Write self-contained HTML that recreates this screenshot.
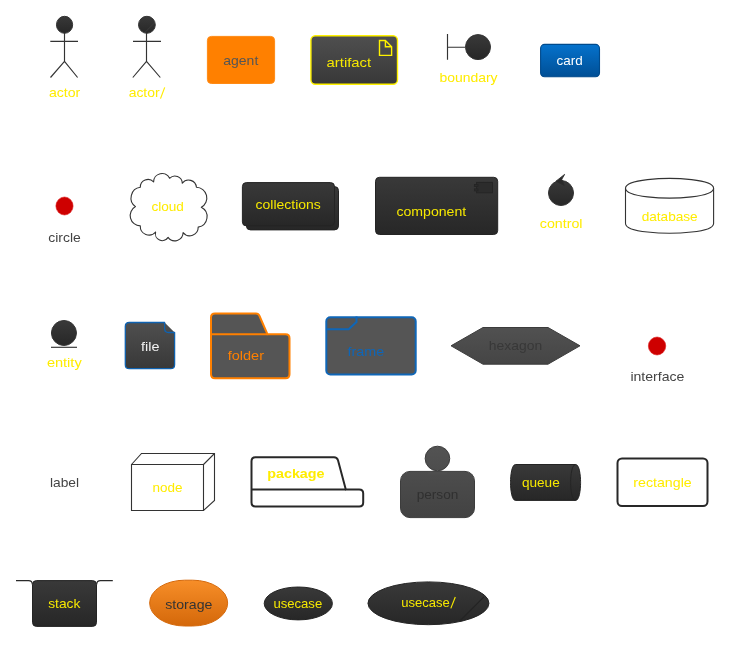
<!DOCTYPE html>
<html>
<head>
<meta charset="utf-8">
<title>deployment elements</title>
<style>
html,body{margin:0;padding:0;background:#ffffff;}
body{width:743px;height:646px;overflow:hidden;font-family:"Liberation Sans",sans-serif;}
svg{display:block;will-change:transform;}
text{font-family:"Liberation Sans",sans-serif;font-size:13.5px;}
.y{fill:#FFEC00;}
.yd{fill:#F6E800;}
.g{fill:#444444;}
.ln{stroke:#333333;stroke-width:1;fill:none;}
.ln2{stroke:#333333;stroke-width:1.15;fill:none;}
</style>
</head>
<body>
<svg width="743" height="646" viewBox="0 0 743 646">
<defs>
<linearGradient id="gd" x1="0" y1="0" x2="0" y2="1"><stop offset="0" stop-color="#393939"/><stop offset="1" stop-color="#272727"/></linearGradient>
<linearGradient id="gm" x1="0" y1="0" x2="0" y2="1"><stop offset="0" stop-color="#4f4f4f"/><stop offset="1" stop-color="#383838"/></linearGradient>
<linearGradient id="gb" x1="0" y1="0" x2="0" y2="1"><stop offset="0" stop-color="#0572CC"/><stop offset="1" stop-color="#004F96"/></linearGradient>
<linearGradient id="go" x1="0" y1="0" x2="0" y2="1"><stop offset="0" stop-color="#F78E28"/><stop offset="1" stop-color="#D4680A"/></linearGradient>
<linearGradient id="gh" x1="0" y1="0" x2="0" y2="1"><stop offset="0" stop-color="#515151"/><stop offset="1" stop-color="#454545"/></linearGradient>
<linearGradient id="gp" gradientUnits="userSpaceOnUse" x1="0" y1="446" x2="0" y2="518"><stop offset="0" stop-color="#535353"/><stop offset="1" stop-color="#424242"/></linearGradient>
</defs>

<!-- ROW 1 -->
<!-- actor -->
<g id="actor">
<path class="ln2" d="M64.5 33V61.3M50.3 41.4H78M64.5 61.3L50.5 77.5M64.5 61.3L77.6 77.5"/>
<ellipse cx="64.55" cy="24.8" rx="8.1" ry="8.5" fill="url(#gd)" stroke="#333" stroke-width="1"/>
<text class="y" x="48.9" y="96.8" textLength="31.3" lengthAdjust="spacingAndGlyphs">actor</text>
</g>
<!-- actor/ -->
<g id="actorb">
<path class="ln2" d="M146.5 33V61.3M133 41.4H161M146.5 61.3L132.8 77.5M146.5 61.3L160.3 77.5"/>
<ellipse cx="146.9" cy="24.8" rx="8.4" ry="8.5" fill="url(#gd)" stroke="#333" stroke-width="1"/>
<path d="M144.8 32.5L154.5 22.9" stroke="#3b3b3b" stroke-width="1" fill="none"/>
<text class="y" x="128.7" y="96.8" textLength="30.9" lengthAdjust="spacingAndGlyphs">actor</text>
<path d="M160.5 98.6L164.7 87.4" stroke="#FFEC00" stroke-width="1.15" fill="none"/>
</g>
<!-- agent -->
<g id="agent">
<rect x="207.4" y="36.4" width="67.2" height="47.1" rx="4" ry="4" fill="#FF8000" stroke="#FF8A14" stroke-width="1"/>
<text x="223.3" y="65.3" fill="#555555" textLength="35" lengthAdjust="spacingAndGlyphs">agent</text>
</g>
<!-- artifact -->
<g id="artifact">
<rect x="310.9" y="35.7" width="86.6" height="48.5" rx="4.5" ry="4.5" fill="url(#gm)" stroke="#FFF200" stroke-width="1.4"/>
<path d="M379.5 40.5H385.4L391.6 46.7V55.4H379.5Z M385.4 40.5V46.7H391.6" fill="none" stroke="#FFF200" stroke-width="1.4"/>
<text class="yd" x="326.6" y="67.2" textLength="44.5" lengthAdjust="spacingAndGlyphs">artifact</text>
</g>
<!-- boundary -->
<g id="boundary">
<path class="ln2" d="M447.5 34V59.8M447.5 47.2H465"/>
<circle cx="478" cy="47.1" r="12.5" fill="url(#gd)" stroke="#333" stroke-width="1"/>
<text class="y" x="439.4" y="81.9" textLength="58.1" lengthAdjust="spacingAndGlyphs">boundary</text>
</g>
<!-- card -->
<g id="card">
<rect x="540.6" y="44.4" width="58.9" height="32.3" rx="4" ry="4" fill="url(#gb)" stroke="#004A8C" stroke-width="1.1"/>
<text x="556.5" y="64.9" fill="#ffffff" textLength="26.2" lengthAdjust="spacingAndGlyphs">card</text>
</g>

<!-- ROW 2 -->
<!-- circle -->
<g id="circle">
<ellipse cx="64.5" cy="206" rx="8.6" ry="9" fill="#CE0000" stroke="#DD2020" stroke-width="0.6"/>
<text class="g" x="48.3" y="242" textLength="32.5" lengthAdjust="spacingAndGlyphs">circle</text>
</g>
<!-- cloud -->
<g id="cloud">
<path d="M140.3 187.3A7.7 7.7 0 0 1 153.6 181.9A8.4 8.4 0 0 1 169.6 178.3A7.4 7.4 0 0 1 182.3 183.1A7.9 7.9 0 0 1 196.4 187.3A10.6 10.6 0 0 1 201.3 207.2A10.6 10.6 0 0 1 198.2 227.1A8.5 8.5 0 0 1 183.1 232.6A8.3 8.3 0 0 1 168.1 237.4A6.9 6.9 0 0 1 155.6 232.0A8.7 8.7 0 0 1 140.3 225.9A10.3 10.3 0 0 1 135.5 206.6A10.7 10.7 0 0 1 140.3 187.3Z" fill="#fff" stroke="#333" stroke-width="1.1" stroke-linejoin="round"/>
<text class="y" x="151.4" y="210.9" textLength="32.5" lengthAdjust="spacingAndGlyphs">cloud</text>
</g>
<!-- collections -->
<g id="collections">
<rect x="246.4" y="186.6" width="92.1" height="43.3" rx="4" ry="4" fill="url(#gd)" stroke="#242424" stroke-width="1"/>
<rect x="242.4" y="182.6" width="92.1" height="43.3" rx="4" ry="4" fill="url(#gd)" stroke="#242424" stroke-width="1"/>
<text class="yd" x="255.6" y="208.8" textLength="65.2" lengthAdjust="spacingAndGlyphs">collections</text>
</g>
<!-- component -->
<g id="component">
<rect x="375.5" y="177.3" width="122.2" height="57.2" rx="4" ry="4" fill="url(#gd)" stroke="#242424" stroke-width="1"/>
<rect x="476.5" y="182.4" width="16" height="10.4" fill="#2c2c2c" stroke="#252525" stroke-width="1"/>
<rect x="474.4" y="184.5" width="3.6" height="2" fill="#2c2c2c" stroke="#252525" stroke-width="0.9"/>
<rect x="474.4" y="188.9" width="3.6" height="2" fill="#2c2c2c" stroke="#252525" stroke-width="0.9"/>
<text class="yd" x="396.4" y="215.9" textLength="69.8" lengthAdjust="spacingAndGlyphs">component</text>
</g>
<!-- control -->
<g id="control">
<circle cx="561" cy="193" r="12.5" fill="url(#gd)" stroke="#333" stroke-width="1"/>
<path d="M556 181.2L564.6 174.4L561.8 179.3L564.2 185.4Z" fill="#2a2a2a" stroke="#2d2d2d" stroke-width="0.9" stroke-linejoin="miter"/>
<text class="y" x="539.8" y="227.8" textLength="42.7" lengthAdjust="spacingAndGlyphs">control</text>
</g>
<!-- database -->
<g id="database">
<path d="M625.5 188.3C625.5 178.4 669.5 178.4 669.5 178.4C669.5 178.4 713.6 178.4 713.6 188.3V223.4C713.6 233.3 669.5 233.3 669.5 233.3C669.5 233.3 625.5 233.3 625.5 223.4Z" fill="#fff" stroke="#333" stroke-width="1.1"/>
<path d="M625.5 188.3C625.5 198.1 669.5 198.1 669.5 198.1C669.5 198.1 713.6 198.1 713.6 188.3" fill="none" stroke="#333" stroke-width="1.1"/>
<text class="y" x="641.7" y="220.8" textLength="56" lengthAdjust="spacingAndGlyphs">database</text>
</g>

<!-- ROW 3 -->
<!-- entity -->
<g id="entity">
<circle cx="63.95" cy="333" r="12.5" fill="url(#gd)" stroke="#333" stroke-width="1"/>
<path class="ln2" d="M51 347.3H77"/>
<text class="y" x="46.9" y="367.2" textLength="34.8" lengthAdjust="spacingAndGlyphs">entity</text>
</g>
<!-- file -->
<g id="file">
<path d="M129.3 322.5H164.6L174.6 332.5V364.7Q174.6 368.7 170.6 368.7H129.3Q125.3 368.7 125.3 364.7V326.5Q125.3 322.5 129.3 322.5Z" fill="url(#gm)" stroke="none"/>
<path d="M164.6 322.5H129.3Q125.3 322.5 125.3 326.5V364.7Q125.3 368.7 129.3 368.7H170.6Q174.6 368.7 174.6 364.7V332.5H168.6Q164.6 332.5 164.6 328.5Z" fill="none" stroke="#0F62B0" stroke-width="1.3" stroke-linejoin="round"/>
<text x="141" y="350.7" fill="#f2f2f2" textLength="18.4" lengthAdjust="spacingAndGlyphs">file</text>
</g>
<!-- folder -->
<g id="folder">
<path d="M215 313.5H256Q258.5 313.5 259.5 316L267.5 334.3H285.5Q289.5 334.3 289.5 338.3V374.3Q289.5 378.3 285.5 378.3H215Q211 378.3 211 374.3V317.5Q211 313.5 215 313.5Z" fill="#555555" stroke="#FF8000" stroke-width="2"/>
<path d="M211 334.3H267.5" stroke="#FF8000" stroke-width="2" fill="none"/>
<text x="227.7" y="360.1" fill="#FF8000" textLength="36.3" lengthAdjust="spacingAndGlyphs">folder</text>
</g>
<!-- frame -->
<g id="frame">
<rect x="326.3" y="317.2" width="89.4" height="57.3" rx="4" ry="4" fill="#555555" stroke="#0F66B7" stroke-width="2"/>
<path d="M326.3 329.3H348.7L356.5 322V316.6" stroke="#0F66B7" stroke-width="2" fill="none"/>
<text x="347.6" y="355.6" fill="#0F66B7" textLength="36.6" lengthAdjust="spacingAndGlyphs">frame</text>
</g>
<!-- hexagon -->
<g id="hexagon">
<path d="M451 345.8L483 327.5H548L580 345.8L548 364.2H483Z" fill="url(#gh)" stroke="#3c3c3c" stroke-width="1"/>
<text x="488.8" y="350.3" fill="#383838" textLength="53.4" lengthAdjust="spacingAndGlyphs">hexagon</text>
</g>
<!-- interface -->
<g id="interface">
<ellipse cx="657.05" cy="346" rx="8.7" ry="9" fill="#CE0000" stroke="#DD2020" stroke-width="0.6"/>
<text class="g" x="630.4" y="381.3" textLength="54" lengthAdjust="spacingAndGlyphs">interface</text>
</g>

<!-- ROW 4 -->
<!-- label -->
<g id="label">
<text class="g" x="50" y="486.7" textLength="29.1" lengthAdjust="spacingAndGlyphs">label</text>
</g>
<!-- node -->
<g id="node">
<path d="M131.5 464.5L141.5 453.5H214.5V500.5L203.5 510.5H131.5Z" fill="#fff" stroke="#333" stroke-width="1.1"/>
<path d="M131.5 464.5H203.5V510.5M203.5 464.5L214.5 453.5" fill="none" stroke="#333" stroke-width="1.1"/>
<text class="y" x="152.5" y="491.8" textLength="30" lengthAdjust="spacingAndGlyphs">node</text>
</g>
<!-- package -->
<g id="package">
<path d="M255.5 457.2H334Q337 457.2 338 460.2L345.8 489.4H359.2Q363.2 489.4 363.2 493.4V502.4Q363.2 506.4 359.2 506.4H255.5Q251.5 506.4 251.5 502.4V461.2Q251.5 457.2 255.5 457.2Z" fill="#fff" stroke="#282828" stroke-width="2"/>
<path d="M251.5 489.4H345.8" stroke="#282828" stroke-width="2" fill="none"/>
<text class="y" x="267.2" y="478.2" font-weight="bold" textLength="57.4" lengthAdjust="spacingAndGlyphs">package</text>
</g>
<!-- person -->
<g id="person">
<rect x="400.5" y="471.4" width="74" height="46.2" rx="9.5" ry="9.5" fill="url(#gp)" stroke="#3c3c3c" stroke-width="1"/>
<circle cx="437.45" cy="458.5" r="12.3" fill="url(#gp)" stroke="#3c3c3c" stroke-width="1"/>
<rect x="428" y="471.9" width="19" height="3" fill="#4e4e4e"/>
<text x="416.7" y="499.3" fill="#303030" textLength="41.6" lengthAdjust="spacingAndGlyphs">person</text>
</g>
<!-- queue -->
<g id="queue">
<path d="M515.5 464.5H575.6C580.6 464.5 580.6 482.5 580.6 482.5C580.6 482.5 580.6 500.4 575.6 500.4H515.5C510.5 500.4 510.5 482.5 510.5 482.5C510.5 482.5 510.5 464.5 515.5 464.5Z" fill="url(#gd)" stroke="#242424" stroke-width="1"/>
<path d="M575.6 464.5C570.6 464.5 570.6 482.5 570.6 482.5C570.6 482.5 570.6 500.4 575.6 500.4" fill="none" stroke="#242424" stroke-width="1"/>
<text class="yd" x="521.9" y="486.8" textLength="37.8" lengthAdjust="spacingAndGlyphs">queue</text>
</g>
<!-- rectangle -->
<g id="rectangle">
<rect x="617.5" y="458.5" width="90" height="47.5" rx="4.5" ry="4.5" fill="#fff" stroke="#282828" stroke-width="2"/>
<text class="y" x="633.3" y="487" textLength="58.4" lengthAdjust="spacingAndGlyphs">rectangle</text>
</g>

<!-- ROW 5 -->
<!-- stack -->
<g id="stack">
<rect x="32.5" y="580.6" width="64" height="45.8" rx="4" ry="4" fill="url(#gd)" stroke="#242424" stroke-width="1"/>
<path d="M16 580.6H28.5Q32.3 580.6 32.3 584.4M112.8 580.6H100.5Q96.7 580.6 96.7 584.4" fill="none" stroke="#2a2a2a" stroke-width="1.15"/>
<text class="yd" x="48.2" y="608.3" textLength="32.2" lengthAdjust="spacingAndGlyphs">stack</text>
</g>
<!-- storage -->
<g id="storage">
<rect x="149.65" y="580.2" width="78" height="45.8" rx="35" ry="22.9" fill="url(#go)" stroke="#D4680A" stroke-width="1"/>
<text x="165.2" y="608.5" fill="#333333" textLength="47.2" lengthAdjust="spacingAndGlyphs">storage</text>
</g>
<!-- usecase -->
<g id="usecase">
<ellipse cx="298.3" cy="603.45" rx="34.1" ry="16.45" fill="url(#gd)" stroke="#242424" stroke-width="1"/>
<text class="yd" x="273.4" y="608.3" textLength="48.8" lengthAdjust="spacingAndGlyphs">usecase</text>
</g>
<!-- usecase/ -->
<g id="usecaseb">
<ellipse cx="428.45" cy="603.3" rx="60.5" ry="21.4" fill="url(#gd)" stroke="#242424" stroke-width="1"/>
<path d="M459.8 621L483.9 596.8" stroke="#232323" stroke-width="1.1" fill="none"/>
<text class="yd" x="401.2" y="606.8" textLength="48.6" lengthAdjust="spacingAndGlyphs">usecase</text>
<path d="M450.8 608.4L455.3 597" stroke="#F6E800" stroke-width="1.15" fill="none"/>
</g>
</svg>
</body>
</html>
